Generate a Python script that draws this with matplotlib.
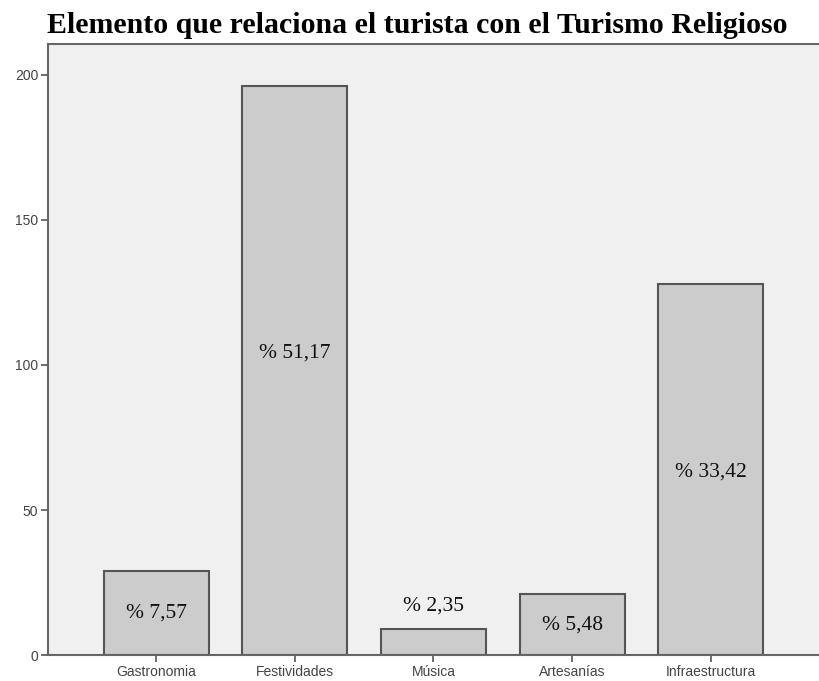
import matplotlib.pyplot as plt
import numpy as np

# %% Daten
categorias = ['Gastronomia', 'Festividades', 'Música', 'Artesanías', 'Infraestructura']
frecuencia = [29, 196, 9, 21, 128]
porcentaje = ['% 7,57', '% 51,17', '% 2,35', '% 5,48', '% 33,42']
# Höhe der Beschriftung (Datenwerte)
label_y = [14.5, 104, 17, 10.5, 63]

# %% Plot
fig = plt.figure(figsize=(8.19, 6.81), dpi=100)
ax = fig.add_axes([0.0586, 0.038, 0.9414, 0.897])
ax.set_facecolor('#f0f0f0')

x = np.arange(len(categorias))
ax.bar(x, frecuencia, width=0.755, color='#cccccc', edgecolor='#555555', linewidth=1.5)

for xi, yi, txt in zip(x, label_y, porcentaje):
    ax.text(xi, yi, txt, ha='center', va='center', fontsize=15.5,
            family='Liberation Serif', color='#111111')

ax.set_xlim(-0.78, 4.78)
ax.set_ylim(0, 210.5)
ax.set_yticks([0, 50, 100, 150, 200])
ax.set_xticks(x)
ax.set_xticklabels(categorias)
ax.tick_params(axis='both', labelsize=10, colors='#555555', labelcolor='#444444',
               length=5, width=1.2, pad=2)
for lab in ax.get_xticklabels() + ax.get_yticklabels():
    lab.set_family('Liberation Sans')

for side in ['left', 'bottom', 'top']:
    ax.spines[side].set_color('#666666')
    ax.spines[side].set_linewidth(1.5)
ax.spines['right'].set_visible(False)

fig.text(0.510, 0.9515, 'Elemento que relaciona el turista con el Turismo Religioso',
         ha='center', va='baseline', fontsize=21.5, fontweight='bold',
         family='Liberation Serif')

fig.savefig('out.png', dpi=100)
